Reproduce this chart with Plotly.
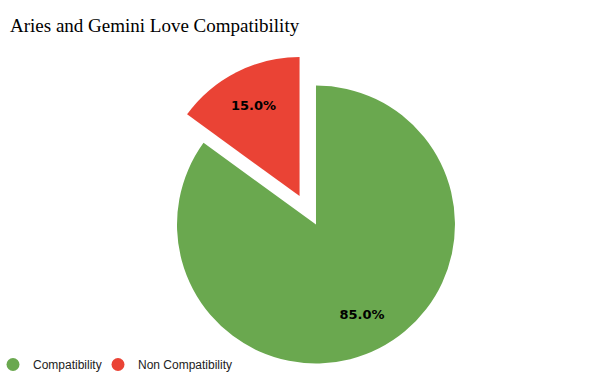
import plotly.graph_objects as go

labels = ["Compatibility", "Non Compatibility"]
values = [85.0, 15.0]
colors = ["#6aa84f", "#ea4335"]
title_text = "Aries and Gemini Love Compatibility"

total = sum(values)
pct_text = [f"{v / total * 100:.1f}%" for v in values]

CLEAR = "rgba(0,0,0,0)"
main_domain = dict(x=[0.295, 0.7583], y=[0.0409, 0.7744])
pulled_domain = dict(x=[0.2675, 0.731], y=[0.1160, 0.8496])
label_font = dict(family="DejaVu Sans", size=13, color="black", weight="bold")

common = dict(labels=labels, values=values, sort=False, direction="clockwise",
              rotation=0, showlegend=False, hoverinfo="skip")

# Main pie: green slice visible, the red slot left empty
fig = go.Figure()
fig.add_trace(go.Pie(**common, domain=main_domain, textinfo="none",
                     marker=dict(colors=[colors[0], CLEAR], line=dict(width=0))))
# Exploded red slice, offset from the centre
fig.add_trace(go.Pie(**common, domain=pulled_domain, textinfo="none",
                     marker=dict(colors=[CLEAR, colors[1]], line=dict(width=0))))
# Transparent ring overlays that carry the percentage labels
fig.add_trace(go.Pie(**common, domain=main_domain, hole=0.46,
                     marker=dict(colors=[CLEAR, CLEAR], line=dict(width=0)),
                     text=[pct_text[0], ""], textinfo="text", textposition="inside",
                     insidetextorientation="horizontal", insidetextfont=label_font))
fig.add_trace(go.Pie(**common, domain=pulled_domain, hole=0.46,
                     marker=dict(colors=[CLEAR, CLEAR], line=dict(width=0)),
                     text=["", pct_text[1]], textinfo="text", textposition="inside",
                     insidetextorientation="horizontal", insidetextfont=label_font))

# Legend entries with circular markers (one legend box per entry)
legend_ids = ["legend", "legend2"]
for lab, col, lid in zip(labels, colors, legend_ids):
    fig.add_trace(go.Scatter(
        x=[None], y=[None], mode="markers", name=lab, legend=lid,
        marker=dict(symbol="circle", size=13, color=col),
        showlegend=True,
    ))

legend_style = dict(orientation="h", xanchor="left", y=0.0, yanchor="bottom",
                    indentation=-7,
                    font=dict(family="Liberation Sans", size=12, color="#222222"),
                    bgcolor="rgba(0,0,0,0)")

fig.update_layout(
    width=600, height=379,
    margin=dict(l=0, r=0, t=0, b=0),
    paper_bgcolor="white", plot_bgcolor="white",
    title=dict(text=title_text, x=10 / 600, xanchor="left", xref="container",
               y=1 - 25.5 / 379, yanchor="middle", yref="container",
               font=dict(family="Liberation Serif", size=19, color="#000000")),
    legend=dict(x=0.0, **legend_style),
    legend2=dict(x=105 / 600, **legend_style),
    xaxis=dict(visible=False), yaxis=dict(visible=False),
)

fig.write_html("out.html", config={"displayModeBar": False},
               post_script="document.body.style.margin='0';")
